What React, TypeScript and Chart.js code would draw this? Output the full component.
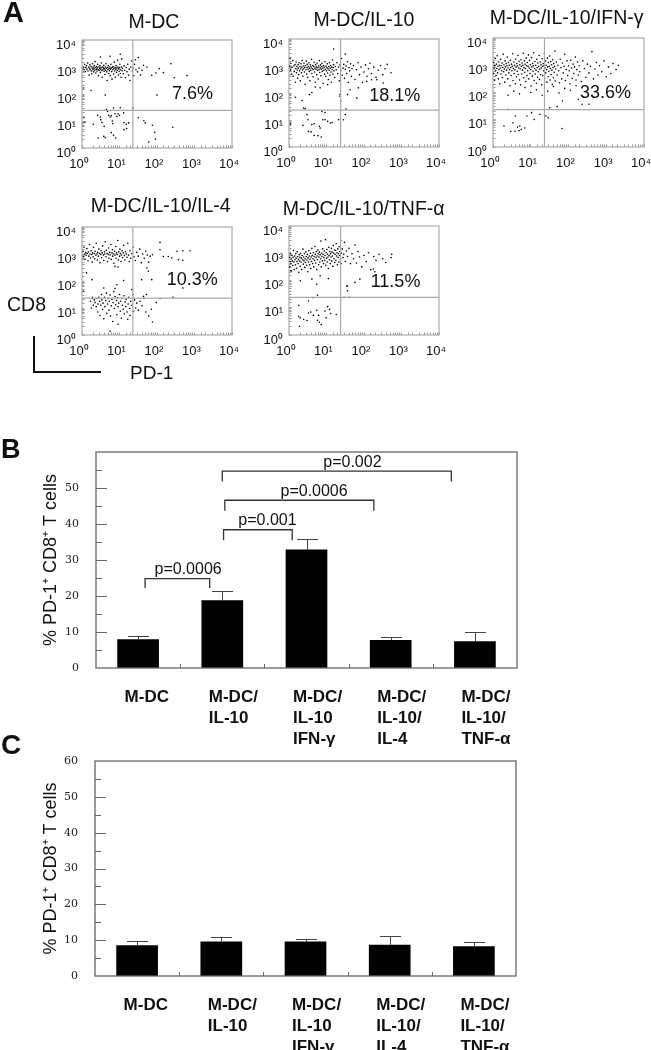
import React, { useEffect, useRef } from "react";
import { Chart, registerables } from "chart.js";

Chart.register(...registerables);

// ---------- DATA ----------
const flowTitles = ["M-DC", "M-DC/IL-10", "M-DC/IL-10/IFN-γ", "M-DC/IL-10/IL-4", "M-DC/IL-10/TNF-α"];
const flowPercents = ["7.6%", "18.1%", "33.6%", "10.3%", "11.5%"];
const gateX = [22.7, 23.8, 23.1, 22.7, 23.8];
const gateY = [24.9, 23.4, 23.4, 23.4, 24];

// Flow events: flat lists of log10(PD-1)*100, log10(CD8)*100
const logEventsMDC = [
  5,112,8,96,30,88,42,121,49,115,50,105,53,95,59,80,65,142,68,136,71,121,75,115,78,119,84,148,88,127,93,117,96,127,100,121,102,149,111,130,112,94,118,88,124,93,119,72,112,68,81,100,82,90,43,37,58,43,62,38,78,57,84,47,90,37,136,148,150,112,165,101,169,93,188,84,194,58,196,33,178,22,242,77,4,222,24,214,62,196,200,196,
  237,312,206,294,217,279,197,278,246,260,280,268,186,269,173,300,164,306,150,335,142,327,102,347,75,340,49,337,
  4,300,6,290,7,310,9,283,10,298,12,305,13,292,15,315,16,285,18,300,19,270,20,295,21,308,22,290,24,302,25,285,26,275,27,296,28,312,29,290,30,300,31,282,32,294,33,305,34,288,35,320,36,298,37,278,38,292,39,302,40,285,41,296,42,310,43,290,44,268,45,300,46,288,47,295,48,305,49,280,50,292,51,298,52,315,53,287,54,262,55,300,56,290,57,296,58,306,59,284,60,293,61,272,62,300,63,288,64,312,65,295,66,282,67,250,68,298,69,290,70,305,71,276,72,294,73,286,74,300,75,268,76,292,77,310,78,296,79,283,80,255,81,299,82,290,83,302,84,274,85,294,86,318,87,285,88,298,89,262,90,292,91,305,92,280,93,296,94,288,95,325,96,300,97,270,98,293,99,284,100,298,101,310,102,276,103,290,104,262,105,300,106,330,107,286,108,295,110,275,112,304,114,288,116,260,118,298,120,282,122,310,124,270,126,292,128,250,130,300,132,322,134,285,136,295,138,268,140,310,144,290,148,282,152,296,156,270,160,288,
];
const logEventsIL10 = [
  48,120,39,144,43,142,51,101,37,80,61,83,67,86,81,77,88,132,96,128,90,101,96,101,103,95,110,89,115,91,83,70,52,58,59,56,67,43,77,42,86,37,132,101,138,169,136,188,152,141,150,120,145,101,4,86,
  17,184,35,172,54,194,61,202,70,222,103,231,83,219,136,194,181,181,156,194,163,212,185,219,220,249,234,249,251,237,207,243,119,363,150,344,
  2,300,3,328,4,285,5,310,7,270,8,295,10,320,11,262,13,300,14,280,16,305,17,240,18,290,19,315,20,275,21,298,22,285,23,255,24,305,25,292,26,268,27,312,28,282,29,298,30,245,31,290,32,308,33,275,34,295,35,320,36,285,37,262,38,300,39,290,40,310,41,278,42,295,43,232,44,302,45,286,46,318,47,270,48,294,49,306,50,258,51,288,52,298,53,312,54,280,55,292,56,245,57,304,58,284,59,296,60,325,61,272,62,290,63,302,64,260,65,286,66,298,67,314,68,278,69,292,70,240,71,305,72,288,73,296,74,268,75,310,76,284,77,294,78,252,79,300,80,286,81,320,82,276,83,293,84,304,85,264,86,288,87,298,88,310,89,280,90,292,91,235,92,302,93,284,94,296,95,270,96,316,97,288,98,262,99,300,100,282,101,294,102,308,103,274,104,290,105,250,106,298,107,284,108,312,109,266,110,292,111,302,112,278,113,240,114,296,115,286,116,322,117,270,118,294,119,305,120,282,122,258,124,298,126,286,128,312,130,272,132,296,134,245,136,304,138,284,140,328,142,266,144,292,146,306,148,254,150,288,152,300,154,272,156,316,158,240,160,294,162,282,164,308,166,262,168,290,172,302,176,250,180,286,184,312,188,268,192,296,196,240,200,278,204,304,208,262,212,290,216,310,220,272,226,296,232,258,238,284,244,302,250,268,256,290,262,306,272,275,
];
const logEventsIFN = [
  29,77,47,58,53,89,59,114,65,73,71,77,75,64,84,70,90,114,102,126,109,101,124,120,140,114,146,107,150,144,170,148,183,68,40,138,58,58,69,60,236,157,254,157,184,169,226,175,
  40,190,55,205,70,195,85,218,100,200,115,210,130,190,145,205,160,222,175,198,190,215,205,208,220,225,
  1,270,2,310,3,290,4,245,5,300,6,325,7,280,8,262,9,304,10,288,11,335,12,272,13,296,14,250,15,312,16,284,17,300,18,232,19,290,20,322,21,268,22,298,23,280,24,308,25,255,26,292,27,340,28,276,29,302,30,286,31,238,32,316,33,294,34,264,35,306,36,282,37,298,38,330,39,250,40,290,41,310,42,272,43,300,44,284,45,225,46,318,47,292,48,262,49,304,50,280,51,296,52,342,53,244,54,288,55,312,56,270,57,300,58,283,59,232,60,322,61,294,62,258,63,306,64,278,65,298,66,336,67,266,68,290,69,314,70,246,71,302,72,286,73,228,74,320,75,296,76,268,77,308,78,282,79,300,80,344,81,254,82,292,83,316,84,274,85,304,86,288,87,240,88,326,89,298,90,262,91,310,92,280,93,296,94,338,95,250,96,290,97,318,98,270,99,302,100,284,101,224,102,328,103,294,104,260,105,306,106,278,107,298,108,346,109,244,110,288,111,314,112,268,113,300,114,282,115,234,116,322,117,292,118,256,119,308,120,276,121,296,122,336,123,248,124,286,125,312,126,266,127,302,128,290,129,228,130,324,131,296,132,262,133,306,134,280,135,298,136,342,137,252,138,290,139,316,140,272,141,300,142,284,143,238,144,326,145,294,146,258,147,310,148,278,149,296,150,334,151,246,152,288,153,314,154,266,155,302,156,282,157,230,158,320,159,292,160,254,161,306,162,274,163,296,164,352,165,242,166,286,168,312,170,264,172,300,174,280,176,236,178,322,180,292,182,250,184,308,186,272,188,296,190,340,192,244,194,284,196,316,198,262,200,298,202,280,204,232,206,318,208,290,210,252,212,304,214,270,216,294,218,330,220,246,222,284,224,312,226,264,228,298,230,276,234,240,238,316,242,288,246,256,250,304,254,272,258,296,262,350,266,250,270,286,274,310,278,264,282,298,288,276,294,316,300,258,306,294,312,270,318,306,326,284,332,300,
];
const logEventsIL4 = [
  22,125,25,100,27,135,28,140,30,110,33,130,35,120,38,105,40,135,42,85,43,115,45,140,47,125,48,72,50,110,52,150,53,130,55,95,56,118,58,60,60,140,61,105,63,128,65,155,66,80,68,115,70,135,72,92,73,125,75,148,76,70,78,108,80,132,82,50,83,120,85,160,86,98,88,142,90,112,92,128,93,75,95,138,96,105,98,118,100,150,102,88,103,125,105,62,106,135,108,110,110,95,112,145,113,78,115,122,117,105,118,132,120,85,122,58,123,115,125,140,127,98,128,72,130,125,133,110,136,150,138,88,140,130,143,100,146,118,150,92,155,125,160,108,165,135,170,85,178,70,185,95,188,48,198,120,172,150,75,14,96,40,
  208,343,208,316,230,291,239,285,253,310,269,312,288,312,257,279,269,277,217,291,188,297,177,236,173,248,159,205,186,205,269,174,
  12,230,27,205,58,174,88,172,93,186,111,202,88,254,96,252,4,162,164,143,208,135,243,140,133,168,
  3,310,4,290,5,325,7,300,8,280,10,305,11,295,13,320,14,302,16,275,17,308,18,292,20,335,21,300,23,285,24,312,26,298,27,270,28,304,30,290,31,325,33,302,34,282,35,310,37,296,38,340,40,300,41,278,42,306,44,292,45,318,47,302,48,268,50,298,51,312,52,286,54,304,55,330,57,296,58,276,60,308,61,300,62,345,64,290,65,314,67,302,68,272,70,298,71,322,72,284,74,306,75,296,77,335,78,280,80,304,81,316,82,292,84,300,85,266,87,310,88,296,90,328,91,284,92,304,94,298,95,350,97,278,98,308,100,292,101,318,102,302,104,272,105,296,107,312,108,286,110,304,111,332,113,294,114,278,116,308,118,300,120,288,122,340,124,296,126,272,128,312,130,284,133,302,136,325,139,290,142,276,146,306,150,292,154,318,158,268,162,300,166,284,170,310,174,296,178,270,182,292,
];
const logEventsTNF = [
  26,109,26,69,30,63,39,57,28,32,48,53,52,81,58,84,65,72,74,91,76,54,81,47,86,38,79,72,96,88,103,104,108,94,111,79,126,75,99,63,52,125,64,137,76,146,147,138,161,138,156,162,156,180,
  4,236,30,199,61,205,83,217,105,207,74,186,176,193,189,205,154,180,225,242,229,232,
  1,285,2,250,3,270,4,300,5,262,6,280,7,235,8,292,9,272,10,255,11,285,12,310,13,268,14,240,15,290,16,276,17,258,18,298,19,282,20,245,21,270,22,305,23,288,24,262,25,278,26,230,27,295,28,272,29,285,30,252,31,300,32,268,33,282,34,240,35,292,36,276,37,315,38,260,39,286,40,272,41,298,42,248,43,280,44,266,45,305,46,288,47,256,48,275,49,296,50,232,51,283,52,268,53,310,54,290,55,258,56,278,57,300,58,244,59,286,60,270,61,318,62,292,63,262,64,280,65,302,66,250,67,288,68,274,69,325,70,296,71,264,72,284,73,306,74,240,75,290,76,276,77,312,78,298,79,258,80,286,81,304,82,268,83,294,84,280,85,345,86,250,87,300,88,288,89,272,90,316,91,296,92,262,93,284,94,308,95,274,96,292,97,350,98,256,99,302,100,282,101,314,102,268,103,296,104,286,105,244,106,322,107,292,108,276,109,306,110,262,111,298,112,286,113,318,114,272,115,304,116,290,117,252,118,328,119,300,120,280,121,312,122,266,123,296,124,310,125,274,126,335,127,290,128,302,129,258,130,316,131,284,132,298,133,268,134,324,135,292,136,306,137,278,138,346,139,262,140,300,142,316,144,284,146,296,148,340,150,270,153,308,156,288,160,318,164,262,168,298,172,280,176,330,180,264,184,306,188,286,194,250,200,292,206,270,212,302,218,240,226,288,232,274,240,296,250,280,258,266,272,284,274,296,
];
const flowEvents = [logEventsMDC, logEventsIL10, logEventsIFN, logEventsIL4, logEventsTNF];

const barCategories = [["M-DC"], ["M-DC/", "IL-10"], ["M-DC/", "IL-10", "IFN-γ"], ["M-DC/", "IL-10/", "IL-4"], ["M-DC/", "IL-10/", "TNF-α"]];
const panelBValues = [8, 18.8, 32.9, 7.8, 7.4];
const panelBErrorTops = [8.8, 21.4, 35.9, 8.6, 10];
const panelCValues = [8.6, 9.6, 9.6, 8.7, 8.3];
const panelCErrorTops = [9.8, 11, 10.2, 11.2, 9.6];
const bracketLabels = ["p=0.0006", "p=0.001", "p=0.0006", "p=0.002"];
const bracketFrom = [0.083, 1.015, 1.03, 1.0];
const bracketTo = [0.85, 1.83, 2.8, 3.72];
const bracketTop = [24.8, 38.4, 46.6, 54.7];
const bracketEnd = [22.2, 35.5, 43.7, 51.8];
const bracketLabelAt = [0.594, 1.536, 2.09, 2.545];
const yAxisTitle = "% PD-1⁺ CD8⁺ T cells";

// ---------- LAYOUT ----------
const SANS = '"Liberation Sans", Arial, sans-serif';
const flowBoxes = [
  { l: 82, t: 40, w: 150, h: 108 },
  { l: 289, t: 39, w: 150, h: 108 },
  { l: 493, t: 38, w: 151, h: 109 },
  { l: 82, t: 227, w: 150, h: 108 },
  { l: 289, t: 226, w: 150, h: 109 },
];
const titlePos = [[154, 28], [364, 25.7], [566.7, 24], [160.7, 211.7], [363.7, 215]];
const percentPos = [[172, 100], [369.3, 101.7], [580, 99], [166.7, 286], [370.7, 288]];
const barCanvas = [
  { top: 440, height: 310, padTop: 12, left: 96, right: 23, xH: 82 },
  { top: 750, height: 300, padTop: 11, left: 95, right: 24, xH: 74 },
];

const SUP: Record<number, string> = { 0: "⁰", 1: "¹", 2: "²", 3: "³", 4: "⁴" };
const logTick = (v: number) => {
  const e = Math.log10(v);
  return Math.abs(e - Math.round(e)) < 1e-6 ? "10" + SUP[Math.round(e)] : "";
};

function fixBox(w: number | null, h: number | null) {
  return (s: any) => {
    if (w !== null) s.width = w;
    if (h !== null) s.height = h;
    s.paddingLeft = s.paddingRight = s.paddingTop = s.paddingBottom = 0;
  };
}

function flowChart(canvas: HTMLCanvasElement, i: number) {
  const flat = flowEvents[i];
  const pts: { x: number; y: number }[] = [];
  for (let k = 0; k < flat.length; k += 2) pts.push({ x: 10 ** (flat[k] / 100), y: 10 ** (flat[k + 1] / 100) });
  const frame = {
    id: "frame",
    beforeDatasetsDraw(c: any) {
      const a = c.chartArea;
      const g = c.ctx;
      g.save();
      g.strokeStyle = "#aaaaaa";
      g.lineWidth = 1.2;
      g.strokeRect(a.left, a.top, a.right - a.left, a.bottom - a.top);
      g.restore();
    },
  };
  const gate = { borderColor: "#aaaaaa", borderWidth: 1.2, pointRadius: 0, showLine: true };
  return new Chart(canvas, {
    type: "scatter",
    data: {
      datasets: [
        { ...gate, data: [{ x: gateX[i], y: 1 }, { x: gateX[i], y: 10000 }] },
        { ...gate, data: [{ x: 1, y: gateY[i] }, { x: 10000, y: gateY[i] }] },
        { data: pts, pointRadius: 0.8, pointBorderWidth: 0, pointBackgroundColor: "#000", backgroundColor: "#000", showLine: false },
      ],
    },
    options: {
      animation: false,
      responsive: false,
      layout: { padding: { top: 10, right: 15, left: 0, bottom: 0 } },
      plugins: { legend: { display: false }, tooltip: { enabled: false }, title: { display: false } },
      scales: {
        x: {
          type: "logarithmic", min: 1, max: 10000, position: "bottom",
          border: { display: false },
          grid: { drawOnChartArea: false, drawTicks: true, tickLength: -2.5, color: "#999" },
          ticks: { autoSkip: false, maxRotation: 0, minRotation: 0, padding: 11.5, labelOffset: -3, color: "#111", font: { family: SANS, size: 13 }, callback: logTick },
          afterFit: fixBox(null, 30),
        },
        y: {
          type: "logarithmic", min: 1, max: 10000,
          border: { display: false },
          grid: { drawOnChartArea: false, drawTicks: true, tickLength: -2.5, color: "#999" },
          ticks: { autoSkip: false, padding: 8.5, labelOffset: 5, color: "#111", font: { family: SANS, size: 13 }, callback: logTick },
          afterFit: fixBox(60, null),
        },
      },
    } as any,
    plugins: [frame],
  } as any);
}

function barChart(canvas: HTMLCanvasElement, values: number[], errTops: number[], layout: any, withBrackets: boolean, showTopLabel: boolean) {
  const deco = {
    id: "deco",
    afterDatasetsDraw(c: any) {
      const g = c.ctx;
      const a = c.chartArea;
      const xs = c.scales.x;
      const ys = c.scales.y;
      g.save();
      g.strokeStyle = "#666";
      g.lineWidth = 1.3;
      g.strokeRect(a.left, a.top, a.right - a.left, a.bottom - a.top);
      g.lineWidth = 1;
      g.beginPath();
      ys.ticks.forEach((t: any) => {
        if (t.value <= 0 || t.value >= 60) return;
        const p = Math.round(ys.getPixelForValue(t.value)) + 0.5;
        g.moveTo(a.left, p);
        g.lineTo(a.left + (t.value % 10 === 0 ? 11 : 6), p);
      });
      for (let i = 1; i < values.length; i++) {
        const p = Math.round((xs.getPixelForValue(i - 1) + xs.getPixelForValue(i)) / 2) + 0.5;
        g.moveTo(p, a.bottom);
        g.lineTo(p, a.bottom - 4);
      }
      g.stroke();
      // error bars
      g.strokeStyle = "#444";
      g.beginPath();
      errTops.forEach((top, i) => {
        const cx = Math.round(xs.getPixelForValue(i)) + 0.5;
        const py = Math.round(ys.getPixelForValue(top)) + 0.5;
        g.moveTo(cx, ys.getPixelForValue(values[i]));
        g.lineTo(cx, py);
        g.moveTo(cx - 10.5, py);
        g.lineTo(cx + 10.5, py);
      });
      g.stroke();
      if (withBrackets) {
        g.strokeStyle = "#333";
        g.lineWidth = 1.3;
        g.fillStyle = "#111";
        g.font = `16px ${SANS}`;
        g.textAlign = "center";
        g.textBaseline = "alphabetic";
        bracketLabels.forEach((label, i) => {
          const x1 = xs.getPixelForValue(bracketFrom[i]);
          const x2 = xs.getPixelForValue(bracketTo[i]);
          const top = ys.getPixelForValue(bracketTop[i]);
          const end = ys.getPixelForValue(bracketEnd[i]);
          g.beginPath();
          g.moveTo(x1, end);
          g.lineTo(x1, top);
          g.lineTo(x2, top);
          g.lineTo(x2, end);
          g.stroke();
          g.fillText(label, xs.getPixelForValue(bracketLabelAt[i]), top - 4.5);
        });
      }
      g.restore();
    },
  };
  return new Chart(canvas, {
    type: "bar",
    data: {
      labels: barCategories,
      datasets: [{ data: values, backgroundColor: "#000", borderWidth: 0, categoryPercentage: 1, barPercentage: 0.495 }],
    },
    options: {
      animation: false,
      responsive: false,
      layout: { padding: { top: layout.padTop, right: layout.right, left: 0, bottom: 0 } },
      plugins: { legend: { display: false }, tooltip: { enabled: false }, title: { display: false } },
      scales: {
        x: {
          border: { display: false },
          grid: { display: false },
          ticks: { autoSkip: false, maxRotation: 0, minRotation: 0, align: "start", labelOffset: -13.5, padding: 11, color: "#111", font: { family: SANS, size: 17, weight: "bold", lineHeight: 1.24 } },
          afterFit: fixBox(null, layout.xH),
        },
        y: {
          min: 0, max: 60,
          border: { display: false },
          grid: { display: false },
          title: { display: true, text: yAxisTitle, color: "#111", font: { family: SANS, size: 18 }, padding: { top: 40, bottom: 0 } },
          ticks: {
            stepSize: 5, padding: 9, color: "#222", autoSkip: false,
            font: { family: '"DejaVu Serif", serif', size: 11 },
            callback: (v: number) => (v % 10 === 0 && (v < 60 || showTopLabel) ? String(v) : ""),
          },
          afterFit: fixBox(layout.left, null),
        },
      },
    } as any,
    plugins: [deco],
  } as any);
}

function Txt({ x, base, size, bold, center, children }: any) {
  return (
    <span
      style={{
        position: "absolute",
        left: x,
        top: base - size * 0.92,
        fontFamily: SANS,
        fontSize: size,
        fontWeight: bold ? "bold" : "normal",
        color: "#111",
        whiteSpace: "nowrap",
        transform: center ? "translateX(-50%)" : undefined,
      }}
    >
      {children}
    </span>
  );
}

export default function App() {
  const flowRefs = useRef<(HTMLCanvasElement | null)[]>([]);
  const bRef = useRef<HTMLCanvasElement | null>(null);
  const cRef = useRef<HTMLCanvasElement | null>(null);

  useEffect(() => {
    const charts = flowRefs.current.map((cv, i) => flowChart(cv as HTMLCanvasElement, i));
    charts.push(barChart(bRef.current as HTMLCanvasElement, panelBValues, panelBErrorTops, barCanvas[0], true, false));
    charts.push(barChart(cRef.current as HTMLCanvasElement, panelCValues, panelCErrorTops, barCanvas[1], false, true));
    return () => charts.forEach((c) => c.destroy());
  }, []);

  return (
    <div style={{ position: "absolute", left: 0, top: 0, width: 651, height: 1050, overflow: "hidden", background: "#fff" }}>
      {flowBoxes.map((b, i) => (
        <canvas
          key={i}
          ref={(el) => { flowRefs.current[i] = el; }}
          width={b.w + 75}
          height={b.h + 40}
          style={{ position: "absolute", left: b.l - 60, top: b.t - 10, width: b.w + 75, height: b.h + 40 }}
        />
      ))}
      <canvas ref={bRef} width={540} height={barCanvas[0].height} style={{ position: "absolute", left: 0, top: barCanvas[0].top }} />
      <canvas ref={cRef} width={540} height={barCanvas[1].height} style={{ position: "absolute", left: 0, top: barCanvas[1].top }} />

      {flowTitles.map((t, i) => (
        <Txt key={t} x={titlePos[i][0]} base={titlePos[i][1]} size={19.5} center>{t}</Txt>
      ))}
      {flowPercents.map((t, i) => (
        <Txt key={t} x={percentPos[i][0]} base={percentPos[i][1]} size={18}>{t}</Txt>
      ))}
      <Txt x={3} base={23} size={29} bold>A</Txt>
      <Txt x={1} base={459} size={27} bold>B</Txt>
      <Txt x={1} base={755} size={28} bold>C</Txt>
      <Txt x={7} base={310.7} size={19.5}>CD8</Txt>
      <Txt x={130} base={379} size={19}>PD-1</Txt>
      <div style={{ position: "absolute", left: 33, top: 336, width: 2, height: 37, background: "#111" }} />
      <div style={{ position: "absolute", left: 33, top: 371, width: 68, height: 2, background: "#111" }} />
    </div>
  );
}
